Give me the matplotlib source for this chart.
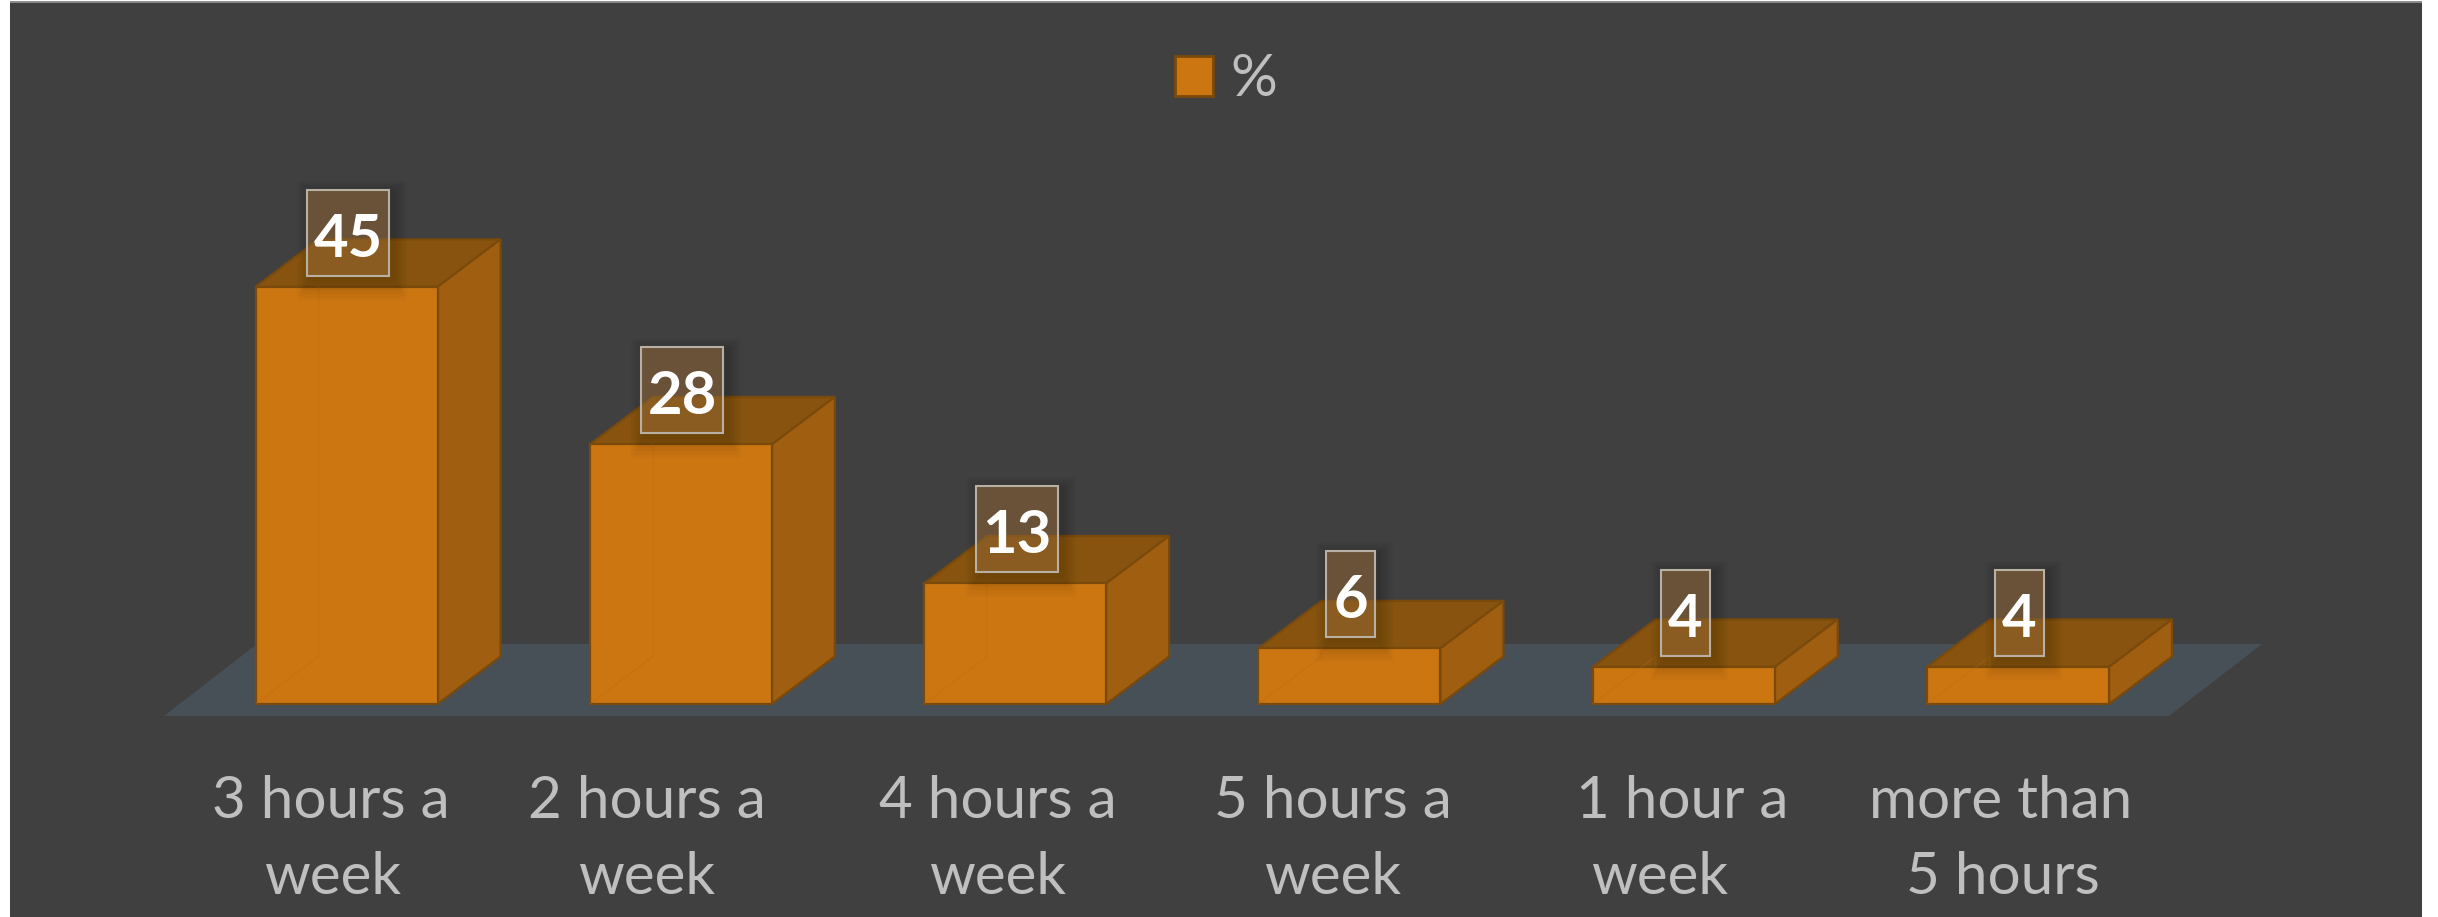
import matplotlib
matplotlib.use('Agg')
import matplotlib.pyplot as plt
from matplotlib.patches import Polygon, Rectangle, Patch

# data
categories = ['3 hours a\nweek', '2 hours a\nweek', '4 hours a\nweek', '5 hours a\nweek', '1 hour a\nweek', 'more than\n5 hours']
values = [45, 28, 13, 6, 4, 4]
series_name = '%'

# layout, in pixels of the 2438x917 picture
W, H = 2438, 917
first_x = 346.5
pitch = 334.3
base_y = 704
px_per_unit = 9.27
line1_x = [331, 647, 998, 1333, 1682, 2001]
line2_x = [333, 647, 998, 1333, 1660, 2003]

# colours
bg = '#404040'
floor_col = '#474f57'
front = '#cc7612'
side = '#a05e10'
top = '#87530f'
edge = '#7a4a0c'
txt = '#bfbfbf'

plt.rcParams['font.family'] = ['Lato', 'DejaVu Sans']

fig = plt.figure(figsize=(W / 100, H / 100), dpi=100, facecolor='white')
fig.patches.append(Rectangle((10 / W, 0), 2412 / W, 1 - 3 / H, transform=fig.transFigure,
                             facecolor=bg, edgecolor='none', zorder=-2))
fig.patches.append(Rectangle((10 / W, 1 - 3 / H), 2412 / W, 2 / H, transform=fig.transFigure,
                             facecolor='#8c8c8c', edgecolor='none', zorder=-2))
ax = fig.add_axes([0, 0, 1, 1])
ax.patch.set_alpha(0)
ax.set_axis_off()
ax.set_xlim(-first_x / pitch, (W - first_x) / pitch)
ax.set_ylim((base_y - H) / px_per_unit, base_y / px_per_unit)

bar_w = 182 / pitch
dx = 63 / pitch
dy = 47.5 / px_per_unit

# floor
x0 = (164 - first_x) / pitch
x1 = (2169 - first_x) / pitch
y0 = (base_y - 716) / px_per_unit
y1 = (base_y - 644) / px_per_unit
ax.add_patch(Polygon([(x0, y0), (x1, y0), (x1 + 93 / pitch, y1), (x0 + 93 / pitch, y1)],
                     facecolor=floor_col, edgecolor='none', zorder=1))

xs = list(range(len(values)))
for i, v in zip(xs, values):
    left = i - bar_w / 2
    right = i + bar_w / 2
    ax.add_patch(Polygon([(left, v), (right, v), (right + dx, v + dy), (left + dx, v + dy)],
                         facecolor=top, edgecolor=edge, linewidth=1.6, zorder=2))
    ax.add_patch(Polygon([(right, 0), (right + dx, dy), (right + dx, v + dy), (right, v)],
                         facecolor=side, edgecolor=edge, linewidth=1.6, zorder=2))
ax.bar(xs, values, width=bar_w, color=front, edgecolor=edge, linewidth=1.6, zorder=3)
# faint back edges seen through the front face
for i, v in zip(xs, values):
    left = i - bar_w / 2
    ax.plot([left, left + dx, left + dx], [0, dy, v], color='#b86a10', lw=1, alpha=0.3, zorder=4)

# value labels
for i, v in zip(xs, values):
    cx = i + 1.5 / pitch
    bw = (82 if v >= 10 else 49) / pitch
    bh = 86 / px_per_unit
    by = v + 11 / px_per_unit
    # soft shadow
    for grow in [28, 24, 20, 16, 12, 8, 4]:
        ax.add_patch(Rectangle((cx - bw / 2 + (4 - grow / 2) / pitch, by - (grow * 0.8 + 2) / px_per_unit),
                               bw + grow / pitch, bh + (grow * 1.2) / px_per_unit,
                               facecolor='black', edgecolor='none', alpha=0.022, zorder=5))
    ax.add_patch(Rectangle((cx - bw / 2, by), bw, bh, facecolor='#a8783f', edgecolor='none',
                           alpha=0.47, zorder=6))
    ax.add_patch(Rectangle((cx - bw / 2, by), bw, bh, facecolor='none', edgecolor='#b8b0a4',
                           linewidth=1.5, zorder=7))
    ax.text(cx, by + bh / 2 - 7 / px_per_unit, str(v), color='white', fontsize=43, fontweight='bold',
            ha='center', va='center', zorder=8)

# category labels
for cat, a, b in zip(categories, line1_x, line2_x):
    l1, l2 = cat.split('\n')
    ax.text((a - first_x) / pitch, (base_y - 817.5) / px_per_unit, l1, color=txt, fontsize=42,
            ha='center', va='baseline')
    ax.text((b - first_x) / pitch, (base_y - 893.5) / px_per_unit, l2, color=txt, fontsize=42,
            ha='center', va='baseline')

# legend
ax.legend(handles=[Patch(facecolor=front, edgecolor=edge, linewidth=2, label=series_name)],
          loc='center', bbox_to_anchor=(1226 / W, 1 - 80 / H), frameon=False, fontsize=42,
          labelcolor=txt, handlelength=0.66, handleheight=0.66, handletextpad=0.3)

fig.savefig('out.png', dpi=100, facecolor='white')
